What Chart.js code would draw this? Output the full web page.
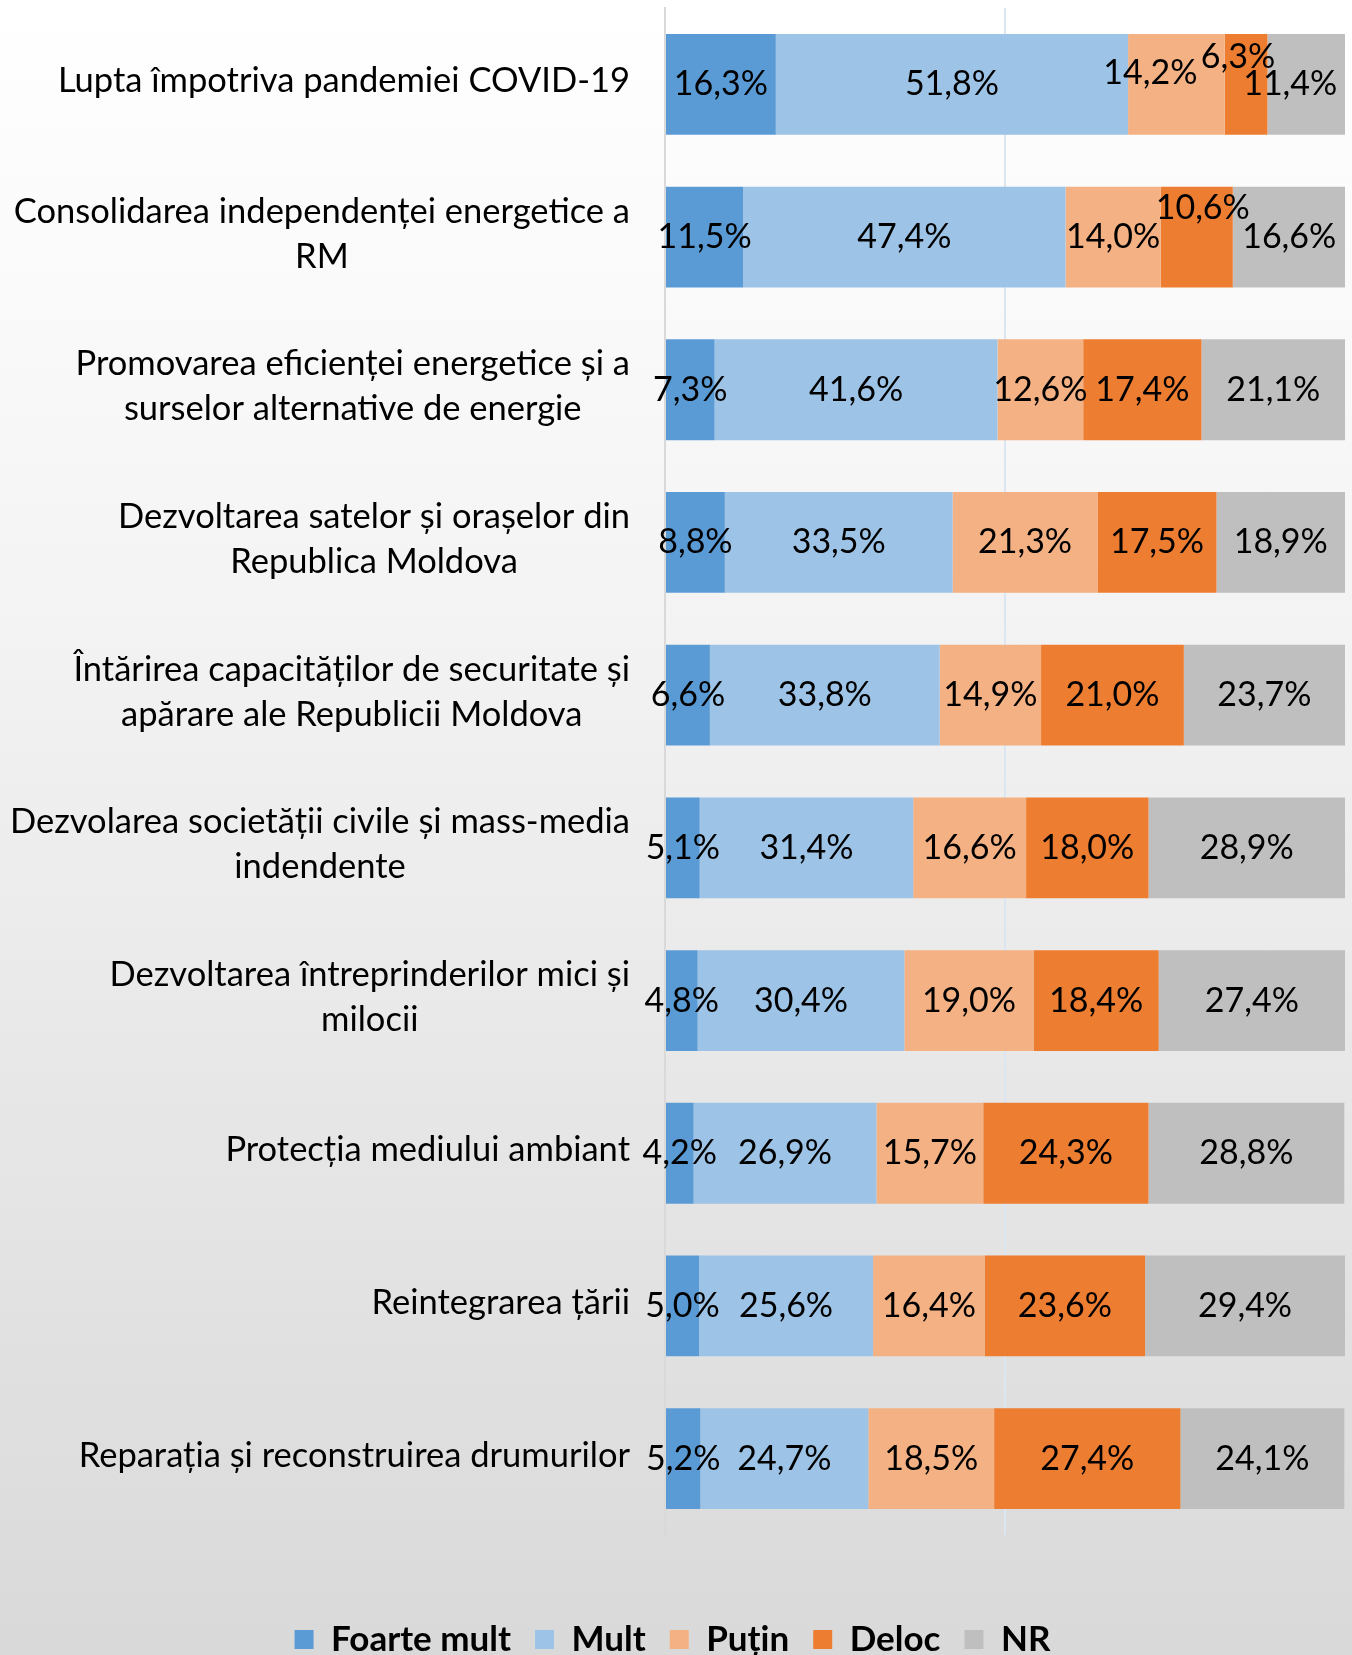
<!DOCTYPE html>
<html>
<head>
<meta charset="utf-8">
<script src="https://cdn.jsdelivr.net/npm/chart.js@4.4.1/dist/chart.umd.min.js"></script>
<style>
  html, body { margin: 0; padding: 0; }
  body { width: 1352px; height: 1655px; background: linear-gradient(to bottom, #ffffff 0%, #f6f6f6 30%, #d9d9d9 100%); }
  canvas { display: block; }
</style>
</head>
<body>
<canvas id="barChart" width="1352" height="1655"></canvas>
<script>
// categorii (randuri), de sus in jos
const categories = [
    ['Lupta împotriva pandemiei COVID-19'],
    ['Consolidarea independenței energetice a', 'RM'],
    ['Promovarea eficienței energetice și a', 'surselor alternative de energie'],
    ['Dezvoltarea satelor și orașelor din', 'Republica Moldova'],
    ['Întărirea capacităților de securitate și', 'apărare ale Republicii Moldova'],
    ['Dezvolarea societății civile și mass-media', 'indendente'],
    ['Dezvoltarea întreprinderilor mici și', 'milocii'],
    ['Protecția mediului ambiant'],
    ['Reintegrarea țării'],
    ['Reparația și reconstruirea drumurilor'],
];

const foarteMult = [16.3, 11.5, 7.3, 8.8, 6.6, 5.1, 4.8, 4.2, 5.0, 5.2];
const mult       = [51.8, 47.4, 41.6, 33.5, 33.8, 31.4, 30.4, 26.9, 25.6, 24.7];
const putin      = [14.2, 14.0, 12.6, 21.3, 14.9, 16.6, 19.0, 15.7, 16.4, 18.5];
const deloc      = [6.3, 10.6, 17.4, 17.5, 21.0, 18.0, 18.4, 24.3, 23.6, 27.4];
const nr         = [11.4, 16.6, 21.1, 18.9, 23.7, 28.9, 27.4, 28.8, 29.4, 24.1];

const FONT = 'Lato, "Open Sans", sans-serif';

// etichetele care in original sunt deplasate ca sa nu se suprapuna (dataset-rand: [dx, dy])
const labelNudge = {
    '2-0': [-26, -11],
    '3-0': [-8, -27],
    '4-0': [-16, 0],
    '3-1': [6, -29],
};

const dataLabels = {
    id: 'dataLabels',
    afterDatasetsDraw(chart) {
        const ctx = chart.ctx;
        ctx.save();
        ctx.font = '34px ' + FONT;
        ctx.fillStyle = '#000';
        ctx.textAlign = 'center';
        ctx.textBaseline = 'middle';
        chart.data.datasets.forEach((ds, di) => {
            const meta = chart.getDatasetMeta(di);
            meta.data.forEach((bar, i) => {
                const v = ds.data[i];
                const txt = v.toFixed(1).replace('.', ',') + '%';
                const n = labelNudge[di + '-' + i] || [0, 0];
                ctx.fillText(txt, (bar.x + bar.base) / 2 + n[0], bar.y + n[1]);
            });
        });
        ctx.restore();
    }
};

// etichetele axei Y: bloc aliniat la dreapta, randurile centrate intre ele
const yLabels = {
    id: 'yLabels',
    afterDraw(chart) {
        const ctx = chart.ctx;
        const scale = chart.scales.y;
        const right = scale.right - 35;
        const lh = 45;
        ctx.save();
        ctx.font = '34.5px ' + FONT;
        ctx.fillStyle = '#000';
        ctx.textAlign = 'center';
        ctx.textBaseline = 'middle';
        categories.forEach((lines, i) => {
            const w = Math.max(...lines.map(l => ctx.measureText(l).width));
            const cx = right - w / 2;
            const y0 = scale.getPixelForValue(i) - (lines.length - 1) * lh / 2 - 3;
            lines.forEach((l, k) => ctx.fillText(l, cx, y0 + k * lh));
        });
        ctx.restore();
    }
};

const ctx = document.getElementById('barChart');

const myChart = new Chart(ctx, {
    type: 'bar',
    data: {
        labels: categories.map(c => c.join(' ')),
        datasets: [
            { label: 'Foarte mult', data: foarteMult, backgroundColor: '#5B9BD5' },
            { label: 'Mult', data: mult, backgroundColor: '#9DC3E6' },
            { label: 'Puțin', data: putin, backgroundColor: '#F4B183' },
            { label: 'Deloc', data: deloc, backgroundColor: '#ED7D31' },
            { label: 'NR', data: nr, backgroundColor: '#BFBFBF' },
        ],
    },
    options: {
        indexAxis: 'y',
        responsive: false,
        animation: false,
        datasets: { bar: { barPercentage: 0.66, categoryPercentage: 1.0, borderWidth: 0 } },
        layout: { padding: { top: 8, right: 7, left: 0, bottom: -12 } },
        scales: {
            x: {
                stacked: true,
                min: 0,
                max: 100,
                ticks: { display: false, stepSize: 50 },
                grid: {
                    drawTicks: false,
                    color: (c) => c.tick && c.tick.value === 50 ? '#DCE6F2' : 'rgba(0,0,0,0)',
                    lineWidth: 2,
                },
                border: { display: false },
                afterFit: (scale) => { scale.height = 63; },
            },
            y: {
                stacked: true,
                ticks: { display: false },
                grid: { display: false, drawTicks: false },
                border: { display: true, color: '#D9D9D9', width: 2 },
                afterFit: (scale) => { scale.width = 665; },
            },
        },
        plugins: {
            legend: {
                position: 'bottom',
                labels: {
                    font: { family: FONT, size: 35, weight: 'bold' },
                    color: '#000',
                    boxWidth: 19,
                    boxHeight: 19,
                    padding: 24,
                },
            },
            tooltip: { enabled: false },
        },
    },
    plugins: [dataLabels, yLabels],
});
</script>
</body>
</html>
